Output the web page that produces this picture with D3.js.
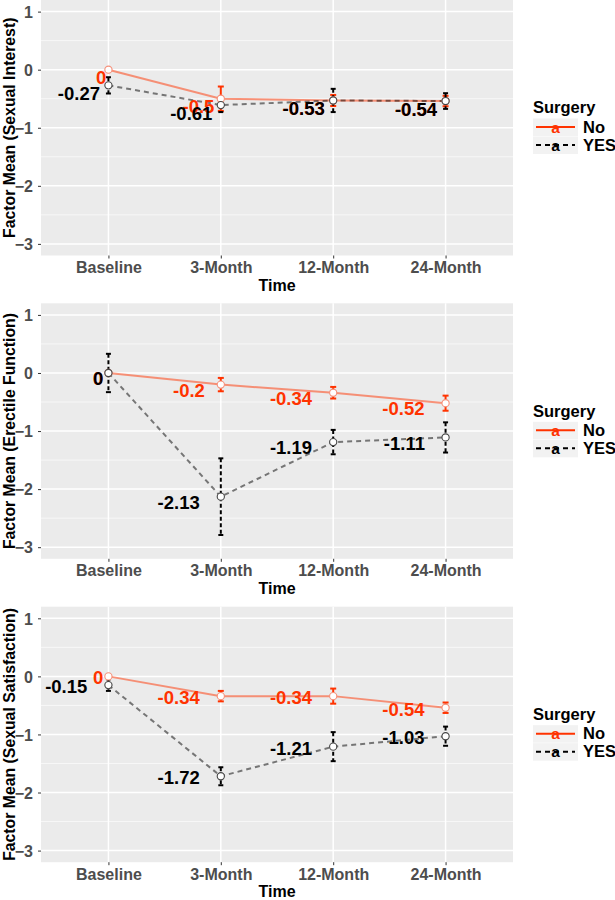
<!DOCTYPE html>
<html><head><meta charset="utf-8">
<script src="https://cdn.jsdelivr.net/npm/d3@7/dist/d3.min.js"></script>
<style>
body{margin:0;background:#fff}
text{font-family:"Liberation Sans",Arial,sans-serif;font-weight:bold}
</style>
</head><body>
<svg id="c" width="615" height="900"></svg>
<script>
// ---------- data ----------
const times = ["Baseline","3-Month","12-Month","24-Month"];
const groups = ["No","YES"];
const yTicks = [1,0,-1,-2,-3];
const yMinor = [0.5,-0.5,-1.5,-2.5];
const panelTitles = ["Factor Mean (Sexual Interest)","Factor Mean (Erectile Function)","Factor Mean (Sexual Satisfaction)"];
const legendTitle = "Surgery";
const xTitle = "Time";

const interestNo      = [0, -0.5, -0.53, -0.54];
const interestYes     = [-0.27, -0.61, -0.53, -0.54];
const interestNoErr   = [0, 0.21, 0.095, 0.09];
const interestYesErr  = [0.14, 0.12, 0.2, 0.135];

const erectileNo      = [0, -0.2, -0.34, -0.52];
const erectileYes     = [0, -2.13, -1.19, -1.11];
const erectileNoErr   = [0, 0.115, 0.1, 0.13];
const erectileYesErr  = [0.33, 0.66, 0.21, 0.26];

const satisfactionNo     = [0, -0.34, -0.34, -0.54];
const satisfactionYes    = [-0.15, -1.72, -1.21, -1.03];
const satisfactionNoErr  = [0, 0.09, 0.13, 0.09];
const satisfactionYesErr = [0.1, 0.155, 0.25, 0.165];

const panels = [
  {title: panelTitles[0], no: interestNo, yes: interestYes, noErr: interestNoErr, yesErr: interestYesErr},
  {title: panelTitles[1], no: erectileNo, yes: erectileYes, noErr: erectileNoErr, yesErr: erectileYesErr},
  {title: panelTitles[2], no: satisfactionNo, yes: satisfactionYes, noErr: satisfactionNoErr, yesErr: satisfactionYesErr}
];

// ---------- layout / style ----------
const L = {left: 41, right: 513, tops: [0, 303.3, 606.7], h: 255.5};
const labelStyle = [{hjust:1.2, dy:8}, {hjust:1.5, dy:5.5}, {hjust:1.5, dy:1.5}];
const RED = "#FF3300", BG = "#EBEBEB";
const LABEL_FS = 18.5;

const svg = d3.select("#c");
const x = d3.scalePoint().domain(times).range([L.left, L.right]).padding(0.6);

panels.forEach((p, i) => {
  const top = L.tops[i], bot = top + L.h;
  const y = d3.scaleLinear().domain([-3.2, 1.2]).range([bot, top]);
  const g = svg.append("g");

  g.append("rect").attr("x", L.left).attr("y", top).attr("width", L.right - L.left).attr("height", L.h).attr("fill", BG);
  // grid
  g.selectAll(".mn").data(yMinor).join("line")
    .attr("x1", L.left).attr("x2", L.right).attr("y1", d => y(d)).attr("y2", d => y(d))
    .attr("stroke", "#fff").attr("stroke-width", 0.8).attr("stroke-opacity", 0.8);
  g.selectAll(".mj").data(yTicks).join("line")
    .attr("x1", L.left).attr("x2", L.right).attr("y1", d => y(d)).attr("y2", d => y(d))
    .attr("stroke", "#fff").attr("stroke-width", 1.5);
  g.selectAll(".vx").data(times).join("line")
    .attr("x1", d => x(d)).attr("x2", d => x(d)).attr("y1", top).attr("y2", bot)
    .attr("stroke", "#fff").attr("stroke-width", 1.5);

  // axes
  const ya = g.append("g").attr("transform", `translate(${L.left},0)`)
    .call(d3.axisLeft(y).tickValues(yTicks).tickSize(3).tickPadding(5).tickFormat(d3.format("d")));
  ya.select(".domain").remove();
  ya.selectAll("line").attr("stroke", "#333").attr("stroke-width", 1);
  ya.selectAll("text").attr("fill", "#4D4D4D").attr("font-size", 16).attr("font-family", "Liberation Sans, Arial, sans-serif").attr("dy", "0.36em");

  const xa = g.append("g").attr("transform", `translate(0,${bot})`)
    .call(d3.axisBottom(x).tickSize(3).tickPadding(3));
  xa.select(".domain").remove();
  xa.selectAll("line").attr("stroke", "#333").attr("stroke-width", 1);
  xa.selectAll("text").attr("fill", "#4D4D4D").attr("font-size", 16).attr("font-family", "Liberation Sans, Arial, sans-serif");

  g.append("text").attr("x", (L.left + L.right) / 2).attr("y", bot + 35)
    .attr("text-anchor", "middle").attr("font-size", 16).attr("fill", "#000").text(xTitle);
  g.append("text").attr("transform", `translate(14.5,${(top + bot) / 2}) rotate(-90)`)
    .attr("text-anchor", "middle").attr("font-size", 15.8).attr("fill", "#000").text(p.title);

  const series = [
    {name: "No", vals: p.no, err: p.noErr},
    {name: "YES", vals: p.yes, err: p.yesErr}
  ];
  const line = d3.line().x((d, j) => x(times[j])).y(d => y(d));

  // lines
  g.append("path").attr("d", line(p.no)).attr("fill", "none")
    .attr("stroke", RED).attr("stroke-opacity", 0.5).attr("stroke-width", 2);
  g.append("path").attr("d", line(p.yes)).attr("fill", "none")
    .attr("stroke", "#000").attr("stroke-opacity", 0.5).attr("stroke-width", 2).attr("stroke-dasharray", "5,4");

  // error bars
  series.forEach(s => {
    const isNo = s.name === "No";
    const col = isNo ? RED : "#000";
    const cw = isNo ? 3 : 2.5;
    s.vals.forEach((v, j) => {
      const e = s.err[j];
      if (!(e > 0)) return;
      const cx = x(times[j]);
      const eg = g.append("g");
      eg.append("line").attr("x1", cx).attr("x2", cx).attr("y1", y(v + e)).attr("y2", y(v - e))
        .attr("stroke", col).attr("stroke-width", 2).attr("stroke-dasharray", isNo ? null : "4,2.5");
      [v + e, v - e].forEach(b => {
        eg.append("line").attr("x1", cx - cw).attr("x2", cx + cw).attr("y1", y(b)).attr("y2", y(b))
          .attr("stroke", col).attr("stroke-width", 2);
      });
    });
  });

  // points
  series.forEach(s => {
    const isNo = s.name === "No";
    g.selectAll(null).data(s.vals).join("circle")
      .attr("cx", (d, j) => x(times[j])).attr("cy", d => y(d)).attr("r", 3.6)
      .attr("fill", "#fff")
      .attr("stroke", isNo ? "#F5907A" : "#444").attr("stroke-width", 1.1);
  });

  // value labels
  const ls = labelStyle[i];
  series.forEach(s => {
    const isNo = s.name === "No";
    s.vals.forEach((v, j) => {
      const t = g.append("text").attr("font-size", LABEL_FS).attr("fill", isNo ? RED : "#000").text(String(v));
      const w = t.node().getComputedTextLength();
      t.attr("x", x(times[j]) - ls.hjust * w).attr("y", y(v) + ls.dy + 6.6);
    });
  });

  // legend
  const lg = svg.append("g").attr("transform", `translate(533,${top})`);
  lg.append("text").attr("x", 0).attr("y", 113.3).attr("font-size", 16.5).attr("fill", "#000").text(legendTitle);
  groups.forEach((gn, k) => {
    const ky = 118.5 + k * 18;
    const isNo = gn === "No";
    lg.append("rect").attr("x", 0).attr("y", ky).attr("width", 45).attr("height", 17.5).attr("fill", "#F2F2F2");
    lg.append("line").attr("x1", 3).attr("x2", 42).attr("y1", ky + 8.5).attr("y2", ky + 8.5)
      .attr("stroke", isNo ? RED : "#000").attr("stroke-width", 2)
      .attr("stroke-dasharray", isNo ? null : "5,4");
    lg.append("text").attr("x", 22.5).attr("y", ky + 14.2).attr("text-anchor", "middle")
      .attr("font-size", 15.5).attr("fill", isNo ? RED : "#000").text("a");
    lg.append("text").attr("x", 50).attr("y", ky + 14).attr("font-size", 16.5).attr("fill", "#000").text(gn);
  });
});
</script>
</body></html>
